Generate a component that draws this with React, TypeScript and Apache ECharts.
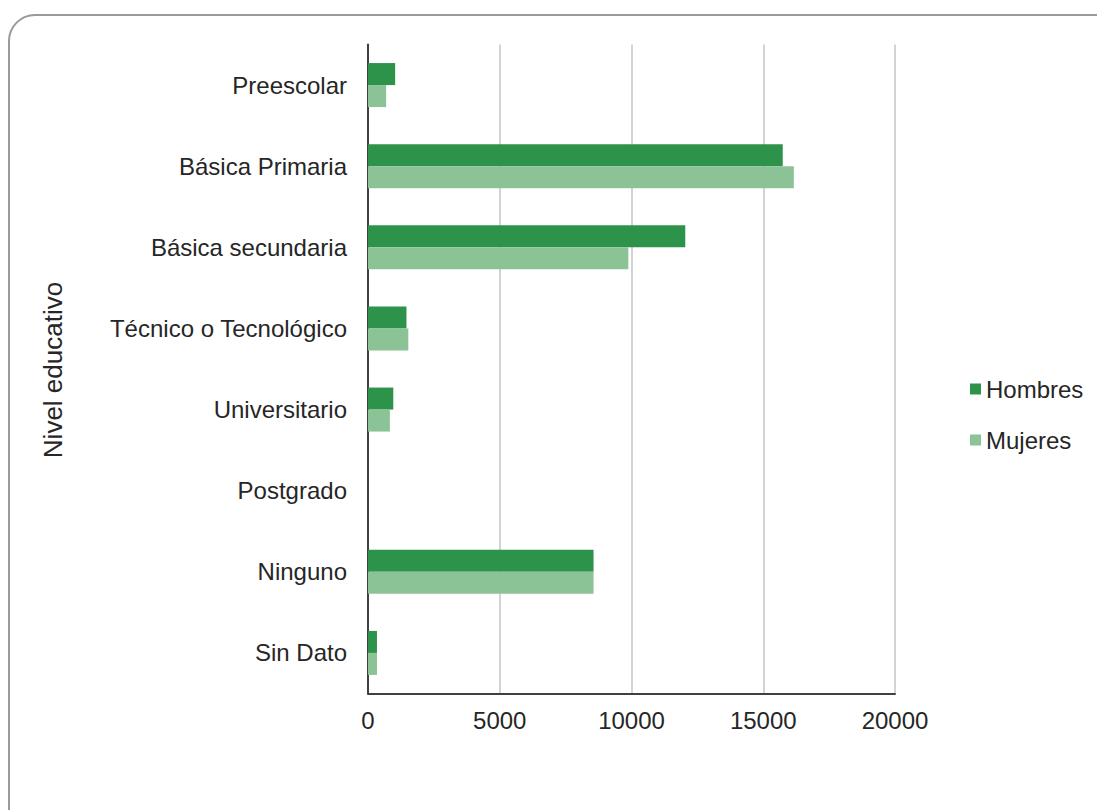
import React, { useEffect, useRef } from "react";
import * as echarts from "echarts";

const categories = [
  "Preescolar",
  "Básica Primaria",
  "Básica secundaria",
  "Técnico o Tecnológico",
  "Universitario",
  "Postgrado",
  "Ninguno",
  "Sin Dato",
];
const hombres = [1030, 15740, 12040, 1460, 960, 0, 8560, 340];
const mujeres = [690, 16160, 9880, 1530, 830, 0, 8560, 340];
const xTicks = [0, 5000, 10000, 15000, 20000];

const FONT = "'Liberation Sans', Arial, sans-serif";

export default function App() {
  const ref = useRef<HTMLDivElement>(null);
  useEffect(() => {
    document.body.style.margin = "0";
    const chart = echarts.init(ref.current!, undefined, { renderer: "svg" });
    chart.setOption({
      animation: false,
      backgroundColor: "#ffffff",
      graphic: [
        {
          type: "rect",
          shape: { x: 9, y: 15, width: 1130, height: 830, r: 26 },
          style: { fill: "none", stroke: "#9a9a9a", lineWidth: 2 },
          silent: true,
        },
        {
          type: "text",
          x: 53,
          y: 370,
          rotation: Math.PI / 2,
          style: {
            text: "Nivel educativo",
            font: "26px 'Liberation Sans', Arial, sans-serif",
            fill: "#262626",
            align: "center",
            verticalAlign: "middle",
          },
        },
      ],
      legend: {
        orient: "vertical",
        left: 965,
        top: 372,
        itemWidth: 11,
        itemHeight: 11,
        itemGap: 27,
        icon: "rect",
        textStyle: { fontFamily: FONT, fontSize: 24, color: "#262626" },
        data: ["Hombres", "Mujeres"],
      },
      grid: { left: 368, right: 202, top: 44.5, bottom: 116.5, containLabel: false },
      xAxis: {
        type: "value",
        min: xTicks[0],
        max: xTicks[xTicks.length - 1],
        interval: 5000,
        axisLine: { show: true, lineStyle: { color: "#404040", width: 2 } },
        axisTick: { show: false },
        splitLine: { show: true, lineStyle: { color: "#c4c4c4", width: 1.5 } },
        axisLabel: {
          fontFamily: FONT,
          fontSize: 24,
          color: "#262626",
          margin: 15,
          formatter: (v: number) => String(v),
        },
      },
      yAxis: {
        type: "category",
        inverse: true,
        data: categories,
        axisLine: { show: true, lineStyle: { color: "#404040", width: 2 } },
        axisTick: { show: false },
        axisLabel: { fontFamily: FONT, fontSize: 24, color: "#262626", margin: 21 },
      },
      series: [
        {
          name: "Hombres",
          type: "bar",
          data: hombres,
          barWidth: 22,
          barGap: "0%",
          itemStyle: { color: "#2e934a" },
        },
        {
          name: "Mujeres",
          type: "bar",
          data: mujeres,
          barWidth: 22,
          barGap: "0%",
          itemStyle: { color: "#8cc396" },
        },
      ],
    });
    return () => chart.dispose();
  }, []);
  return <div ref={ref} style={{ width: 1097, height: 810 }} />;
}
